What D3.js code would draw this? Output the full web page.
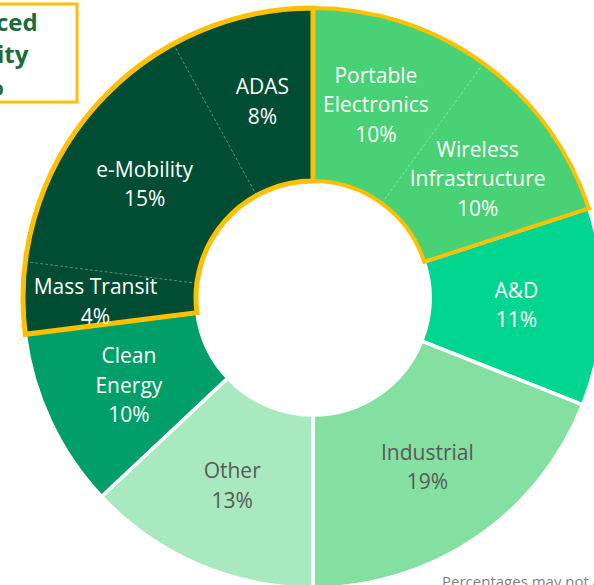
<!DOCTYPE html>
<html>
<head>
<meta charset="utf-8">
<script src="https://cdn.jsdelivr.net/npm/d3@7"></script>
<style>
  html, body { margin: 0; padding: 0; background: #fff; overflow: hidden; }
  svg { display: block; font-family: "Open Sans", sans-serif; }
</style>
</head>
<body>
<svg id="chart" width="594" height="585"></svg>
<script>
// segment data, clockwise from 12 o'clock
var categories = ['Portable Electronics', 'Wireless Infrastructure', 'A&D', 'Industrial', 'Other',
                  'Clean Energy', 'Mass Transit', 'e-Mobility', 'ADAS'];
var shares = [10, 10, 11, 19, 13, 10, 4, 15, 8];
var labelLines = [['Portable', 'Electronics'], ['Wireless', 'Infrastructure'], ['A&D'], ['Industrial'],
                  ['Other'], ['Clean', 'Energy'], ['Mass Transit'], ['e-Mobility'], ['ADAS']];
var groups = ['consumer', 'consumer', null, null, null, null, 'mobility', 'mobility', 'mobility'];
var calloutLines = ['Advanced', 'Mobility', '27%'];
var footnote = 'Percentages may not add to 100% due to rounding';

var colors = {
  'Portable Electronics': '#48d175', 'Wireless Infrastructure': '#48d175', 'A&D': '#00d690',
  'Industrial': '#84e0a0', 'Other': '#a8e9bf', 'Clean Energy': '#009f69',
  'Mass Transit': '#004d33', 'e-Mobility': '#004d33', 'ADAS': '#004d33'
};
var darkText = { 'Industrial': true, 'Other': true };

var svg = d3.select('#chart');
var cx = 313, cy = 298, rIn = 117, rOut = 290;

var data = categories.map(function(c, i){ return { name: c, share: shares[i], lines: labelLines[i], group: groups[i] }; });
var pie = d3.pie().sort(null).value(function(d){ return d.share; });
var arcs = pie(data);
var arc = d3.arc().innerRadius(rIn).outerRadius(rOut);

var origin = svg.append('g').attr('transform', 'translate(' + cx + ',' + cy + ')');

// slices with white separators
origin.selectAll('path.slice').data(arcs).enter().append('path')
  .attr('class', 'slice')
  .attr('d', arc)
  .attr('fill', function(d){ return colors[d.data.name]; })
  .attr('stroke', '#fff').attr('stroke-width', 3.5);

// grouped segments: fill over internal borders, dashed inner lines, yellow outline
var groupKeys = ['consumer', 'mobility'];
groupKeys.forEach(function(g){
  var members = arcs.filter(function(a){ return a.data.group == g; });
  var ga = { startAngle: members[0].startAngle, endAngle: members[members.length - 1].endAngle };
  origin.append('path').attr('d', arc(ga)).attr('fill', colors[members[0].data.name]);
  members.slice(1).forEach(function(m){
    var a = m.startAngle;
    origin.append('line')
      .attr('x1', rIn * Math.sin(a)).attr('y1', -rIn * Math.cos(a))
      .attr('x2', rOut * Math.sin(a)).attr('y2', -rOut * Math.cos(a))
      .attr('stroke', 'rgba(255,255,255,0.45)').attr('stroke-width', 0.8)
      .attr('stroke-dasharray', '3,2');
  });
  origin.append('path').attr('d', arc(ga)).attr('fill', 'none')
    .attr('stroke', '#ffc000').attr('stroke-width', g == 'mobility' ? 5 : 4)
    .attr('stroke-linejoin', 'miter');
});

// labels at segment centroids
var lineH = 29.5;
var labels = origin.selectAll('text.lbl').data(arcs).enter().append('text')
  .attr('class', 'lbl')
  .attr('text-anchor', 'middle')
  .style('font-size', '21px')
  .attr('fill', function(d){ return darkText[d.data.name] ? '#595959' : '#fff'; });

labels.each(function(d){
  var c = arc.centroid(d);
  // the thin Mass Transit slice has its label nudged outwards, as in the source
  if(d.data.name == 'Mass Transit'){ c = [c[0] - 14, c[1] + 3]; }
  var lines = d.data.lines.concat([d.data.share + '%']);
  var n = lines.length;
  var t = d3.select(this);
  lines.forEach(function(l, i){
    t.append('tspan').attr('x', c[0]).attr('y', c[1] + (i - (n - 1) / 2) * lineH + 8).text(l);
  });
});

// callout box (partly off the left edge)
var box = svg.append('g');
box.append('rect').attr('x', -110).attr('y', 4).attr('width', 187).attr('height', 98)
  .attr('fill', '#fff').attr('stroke', '#ffc000').attr('stroke-width', 3);
box.selectAll('text').data(calloutLines).enter().append('text')
  .attr('x', -21).attr('y', function(d, i){ return 31 + i * 32; })
  .attr('text-anchor', 'middle')
  .style('font-size', '24px').style('font-weight', 'bold')
  .attr('fill', '#1e6b3a')
  .text(function(d){ return d; });

svg.append('text').attr('x', 442).attr('y', 587)
  .style('font-size', '15px').attr('fill', '#7f7f7f')
  .text(footnote);
</script>
</body>
</html>
